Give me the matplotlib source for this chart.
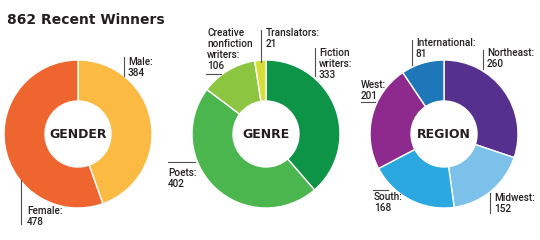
import matplotlib
matplotlib.use("Agg")
from matplotlib import pyplot as plt

title = "862 Recent Winners"

gender_labels = ["Male", "Female"]
gender_values = [384, 478]
gender_colors = ["#FBBA42", "#EF6530"]

genre_labels = ["Fiction\nwriters", "Poets", "Creative\nnonfiction\nwriters", "Translators"]
genre_values = [333, 402, 106, 21]
genre_colors = ["#0E9447", "#4AB64D", "#8CC540", "#D6DE38"]

region_labels = ["Northeast", "Midwest", "South", "West", "International"]
region_values = [260, 152, 168, 201, 81]
region_colors = ["#55308F", "#7CC1E9", "#2BA8DF", "#8E2A8D", "#1E77B8"]

TXT = "#231F20"
LEAD = "#4d4d4d"
H = 240


def Y(y):
    return H - y


fig = plt.figure(figsize=(5.4, 2.4), dpi=100)
ax = fig.add_axes([0, 0, 1, 1])


def donut(cx, name, values, colors):
    ax.pie(values, colors=colors, startangle=90, counterclock=False,
           center=(cx, Y(134)), radius=74,
           wedgeprops=dict(width=41, edgecolor="white", linewidth=1))
    ax.text(cx, Y(134), name, ha="center", va="center", fontsize=9,
            fontweight="bold", color=TXT, family="DejaVu Sans")


def label(x, y, name, value, line):
    lines = (name + ":").split("\n") + [str(value)]
    for i, s in enumerate(lines):
        ax.text(x, Y(y + i * 11), s, ha="left", va="center", fontsize=7.2,
                fontweight="medium", color=TXT, family="Roboto")
    (x0, y0), (x1, y1) = line
    ax.plot([x0, x1], [Y(y0), Y(y1)], color=LEAD, lw=0.8)


donut(78, "GENDER", gender_values, gender_colors)
donut(266, "GENRE", genre_values, genre_colors)
donut(444, "REGION", region_values, region_colors)

# label placement (pixels): text anchor, leader line
gender_pos = [((128, 62), ((124, 57), (124, 76))),
              ((27, 211), ((21, 180), (21, 224)))]
genre_pos = [((319, 53), ((315, 48), (315, 76))),
             ((168, 173), ((168, 162), (195, 162))),
             ((207, 33), ((206, 74), (221, 74))),
             ((266, 33), ((261, 30), (261, 62)))]
region_pos = [((487, 53), ((483, 50), (483, 69))),
              ((494, 198), ((490, 193), (490, 213))),
              ((374, 197), ((373, 190), (388, 190))),
              ((361, 85), ((361, 102), (375, 102))),
              ((416, 43), ((412, 40), (412, 65)))]

for labs, vals, pos in [(gender_labels, gender_values, gender_pos),
                        (genre_labels, genre_values, genre_pos),
                        (region_labels, region_values, region_pos)]:
    for n, v, (xy, ln) in zip(labs, vals, pos):
        label(xy[0], xy[1], n, v, ln)

ax.text(7, Y(20), title, ha="left", va="center", fontsize=10,
        fontweight="bold", color=TXT, family="DejaVu Sans")

ax.set_xlim(0, 540)
ax.set_ylim(0, 240)
ax.set_aspect("equal")
ax.axis("off")
fig.savefig("out.png", dpi=100)
